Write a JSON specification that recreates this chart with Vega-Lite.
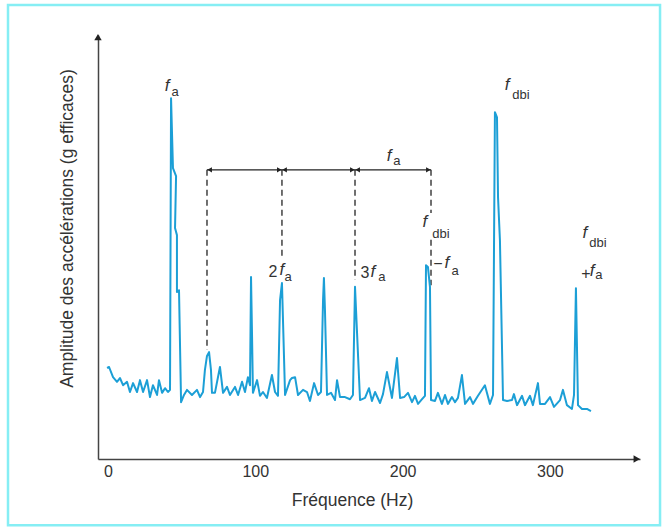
{
  "$schema": "https://vega.github.io/schema/vega-lite/v6.json",
  "width": 542,
  "height": 424,
  "autosize": {"type": "none"},
  "padding": {"left": 98, "top": 35, "right": 28, "bottom": 70},
  "background": "white",
  "config": {"view": {"stroke": null}, "font": "Liberation Sans"},
  "datasets": {
    "spectrum": [
      {"f":-0.7,"a":21.5},{"f":0.7,"a":21.7},{"f":3.4,"a":19.3},{"f":6.1,"a":18.2},{"f":8.1,"a":19.1},{"f":10.2,"a":17.4},{"f":12.9,"a":18.2},{"f":14.9,"a":15.8},{"f":17.0,"a":17.9},{"f":19.7,"a":15.8},
      {"f":21.7,"a":18.6},{"f":23.8,"a":15.8},{"f":26.5,"a":18.6},{"f":28.5,"a":14.6},{"f":30.5,"a":17.4},{"f":33.3,"a":15.1},{"f":34.6,"a":18.6},{"f":36.7,"a":15.6},{"f":38.7,"a":16.7},{"f":40.7,"a":15.8},
      {"f":42.1,"a":16.3},{"f":42.8,"a":85.1},{"f":44.1,"a":68.6},{"f":46.2,"a":66.7},{"f":45.5,"a":54.5},{"f":46.8,"a":52.8},{"f":46.8,"a":39.4},{"f":48.2,"a":39.8},{"f":49.6,"a":13.4},{"f":51.6,"a":15.1},
      {"f":53.6,"a":16.3},{"f":57.0,"a":15.1},{"f":60.4,"a":16.3},{"f":62.5,"a":14.6},{"f":64.5,"a":15.8},{"f":65.8,"a":21.0},{"f":67.2,"a":24.3},{"f":68.6,"a":25.2},{"f":69.9,"a":21.0},{"f":70.6,"a":15.6},
      {"f":72.6,"a":15.6},{"f":76.0,"a":21.7},{"f":78.1,"a":15.6},{"f":80.8,"a":17.0},{"f":82.8,"a":15.1},{"f":86.2,"a":17.0},{"f":88.3,"a":15.1},{"f":91.0,"a":18.2},{"f":93.0,"a":15.8},{"f":95.0,"a":19.3},
      {"f":96.4,"a":17.4},{"f":97.1,"a":42.9},{"f":97.8,"a":28.8},{"f":98.4,"a":15.6},{"f":101.2,"a":18.6},{"f":103.2,"a":14.9},{"f":105.2,"a":15.8},{"f":107.9,"a":14.4},{"f":111.3,"a":19.8},{"f":113.4,"a":15.8},
      {"f":115.4,"a":14.9},{"f":116.8,"a":37.5},{"f":118.1,"a":41.5},{"f":118.8,"a":32.8},{"f":120.2,"a":15.1},{"f":123.6,"a":18.6},{"f":124.9,"a":19.1},{"f":127.0,"a":19.3},{"f":129.0,"a":15.1},{"f":132.4,"a":16.3},
      {"f":135.1,"a":15.8},{"f":137.1,"a":13.7},{"f":139.9,"a":17.9},{"f":142.6,"a":15.1},{"f":144.6,"a":15.8},{"f":146.0,"a":37.5},{"f":146.6,"a":42.7},{"f":147.3,"a":35.1},{"f":148.7,"a":15.1},{"f":151.4,"a":15.6},
      {"f":154.1,"a":13.9},{"f":155.5,"a":18.6},{"f":157.5,"a":14.6},{"f":160.9,"a":14.6},{"f":164.3,"a":14.1},{"f":166.3,"a":15.1},{"f":167.7,"a":40.6},{"f":169.0,"a":30.4},{"f":171.1,"a":13.9},{"f":174.5,"a":14.4},
      {"f":177.2,"a":16.7},{"f":179.2,"a":13.7},{"f":181.3,"a":15.8},{"f":184.7,"a":13.2},{"f":186.7,"a":15.3},{"f":189.4,"a":20.5},{"f":192.8,"a":14.4},{"f":196.2,"a":23.8},{"f":198.3,"a":14.4},{"f":201.0,"a":14.6},
      {"f":203.7,"a":15.6},{"f":206.4,"a":13.4},{"f":208.4,"a":14.9},{"f":210.5,"a":13.0},{"f":213.2,"a":14.1},{"f":215.2,"a":14.9},{"f":215.9,"a":45.7},{"f":217.2,"a":45.3},{"f":218.6,"a":40.6},{"f":219.3,"a":13.9},
      {"f":222.0,"a":13.7},{"f":224.0,"a":15.6},{"f":226.7,"a":13.0},{"f":228.8,"a":15.1},{"f":230.8,"a":13.0},{"f":233.5,"a":14.6},{"f":235.6,"a":13.4},{"f":237.6,"a":14.4},{"f":240.3,"a":19.8},{"f":242.4,"a":13.0},
      {"f":245.8,"a":14.6},{"f":247.8,"a":13.0},{"f":251.2,"a":14.9},{"f":255.9,"a":17.4},{"f":259.3,"a":13.0},{"f":261.4,"a":15.1},{"f":262.7,"a":81.8},{"f":264.1,"a":80.6},{"f":264.8,"a":61.8},{"f":266.1,"a":51.6},
      {"f":268.2,"a":13.9},{"f":270.9,"a":13.7},{"f":274.3,"a":13.9},{"f":275.6,"a":15.3},{"f":277.7,"a":12.7},{"f":281.1,"a":14.9},{"f":283.1,"a":12.7},{"f":286.5,"a":14.9},{"f":288.5,"a":12.7},{"f":291.9,"a":17.9},
      {"f":293.3,"a":13.0},{"f":296.7,"a":13.0},{"f":300.1,"a":14.6},{"f":302.8,"a":12.3},{"f":306.9,"a":13.9},{"f":308.9,"a":16.3},{"f":311.6,"a":12.7},{"f":315.0,"a":11.8},{"f":316.4,"a":15.1},{"f":317.7,"a":40.3},
      {"f":319.1,"a":12.7},{"f":321.8,"a":11.8},{"f":325.2,"a":11.8},{"f":327.9,"a":11.3}
    ],
    "frame": [{"f":-67.9,"f2":374.8,"a":107.1,"a2":-15.6}],
    "dashed": [
      {"f":67.2,"a":68.2,"a2":25.7},
      {"f":118.1,"a":68.2,"a2":47.0},
      {"f":167.7,"a":68.2,"a2":42.2},
      {"f":219.3,"a":68.2,"a2":58.0},
      {"f":219.3,"a":51.7,"a2":41.0}
    ],
    "span": [{"f":67.2,"f2":219.3,"a":68.2}],
    "heads": [
      {"f":69.0,"a":68.2,"dir":"left"},{"f":116.3,"a":68.2,"dir":"right"},
      {"f":119.9,"a":68.2,"dir":"left"},{"f":165.9,"a":68.2,"dir":"right"},
      {"f":169.5,"a":68.2,"dir":"left"},{"f":217.5,"a":68.2,"dir":"right"}
    ],
    "axisHeads": [
      {"f":359.0,"a":0,"dir":"right"},
      {"f":-6.8,"a":99.5,"dir":"up"}
    ],
    "italicF": [
      {"f":40.1,"a":88.0,"t":"f"},{"f":270.9,"a":88.2,"t":"f"},{"f":190.8,"a":71.4,"t":"f"},
      {"f":118.1,"a":44.6,"t":"f"},{"f":179.9,"a":44.1,"t":"f"},{"f":215.2,"a":55.9,"t":"f"},
      {"f":230.1,"a":46.2,"t":"f"},{"f":323.8,"a":53.3,"t":"f"},{"f":328.6,"a":44.3,"t":"f"}
    ],
    "upright": [
      {"f":112.0,"a":44.1,"t":"2"},{"f":174.5,"a":43.9,"t":"3"},
      {"f":224.0,"a":46.0,"t":"−"},{"f":324.5,"a":43.6,"t":"+"}
    ],
    "subs": [
      {"f":45.5,"a":86.5,"t":"a"},{"f":280.4,"a":85.8,"t":"dbi"},{"f":196.2,"a":70.3,"t":"a"},
      {"f":122.2,"a":42.9,"t":"a"},{"f":186.0,"a":42.9,"t":"a"},{"f":226.1,"a":53.1,"t":"dbi"},
      {"f":235.6,"a":44.3,"t":"a"},{"f":332.7,"a":50.9,"t":"dbi"},{"f":333.3,"a":43.4,"t":"a"}
    ]
  },
  "encoding": {
    "x": {
      "field": "f", "type": "quantitative",
      "scale": {"domain": [-6.8, 361.2], "nice": false, "zero": false},
      "axis": {
        "values": [0, 100, 200, 300], "format": "d", "ticks": false, "grid": false,
        "domainColor": "#444", "domainWidth": 1.5,
        "labelFontSize": 16, "labelColor": "#333", "labelPadding": 4, "labelFlush": false,
        "title": "Fréquence (Hz)", "titleFontSize": 17.5, "titleFontWeight": "normal",
        "titleColor": "#333", "titlePadding": 12, "titleX": 254
      }
    },
    "y": {
      "field": "a", "type": "quantitative",
      "scale": {"domain": [0, 100], "nice": false, "zero": false},
      "axis": {
        "ticks": false, "labels": false, "grid": false,
        "domainColor": "#444", "domainWidth": 1.5,
        "title": "Amplitude des accélérations (g efficaces)", "titleFontSize": 17.5,
        "titleFontWeight": "normal", "titleColor": "#333", "titlePadding": 22, "titleY": 193
      }
    }
  },
  "layer": [
    {
      "data": {"name": "frame"},
      "mark": {"type": "rect", "fill": "white", "fillOpacity": 0, "stroke": "#86eef4", "strokeWidth": 2.5},
      "encoding": {"x2": {"field": "f2"}, "y2": {"field": "a2"}}
    },
    {
      "data": {"name": "dashed"},
      "mark": {"type": "rule", "color": "#333", "strokeWidth": 1.4, "strokeDash": [6, 4]},
      "encoding": {"y2": {"field": "a2"}}
    },
    {
      "data": {"name": "span"},
      "mark": {"type": "rule", "color": "#222", "strokeWidth": 1.4},
      "encoding": {"x2": {"field": "f2"}}
    },
    {
      "data": {"name": "heads"},
      "mark": {"type": "point", "filled": true, "size": 28, "color": "#222", "opacity": 1},
      "encoding": {
        "shape": {"field": "dir", "type": "nominal", "legend": null,
          "scale": {"domain": ["left", "right", "up"], "range": ["triangle-left", "triangle-right", "triangle-up"]}}
      }
    },
    {
      "data": {"name": "axisHeads"},
      "mark": {"type": "point", "filled": true, "size": 55, "color": "#222", "opacity": 1},
      "encoding": {
        "shape": {"field": "dir", "type": "nominal", "legend": null,
          "scale": {"domain": ["left", "right", "up"], "range": ["triangle-left", "triangle-right", "triangle-up"]}}
      }
    },
    {
      "data": {"name": "spectrum"},
      "mark": {"type": "line", "color": "#1c9fd6", "strokeWidth": 2, "strokeJoin": "round"},
      "encoding": {"order": {"value": null}}
    },
    {
      "data": {"name": "italicF"},
      "mark": {"type": "text", "fontSize": 17, "fontStyle": "italic", "color": "#333", "align": "center", "baseline": "middle"},
      "encoding": {"text": {"field": "t"}}
    },
    {
      "data": {"name": "upright"},
      "mark": {"type": "text", "fontSize": 16, "color": "#333", "align": "center", "baseline": "middle"},
      "encoding": {"text": {"field": "t"}}
    },
    {
      "data": {"name": "subs"},
      "mark": {"type": "text", "fontSize": 13, "color": "#333", "align": "center", "baseline": "middle"},
      "encoding": {"text": {"field": "t"}}
    }
  ]
}
